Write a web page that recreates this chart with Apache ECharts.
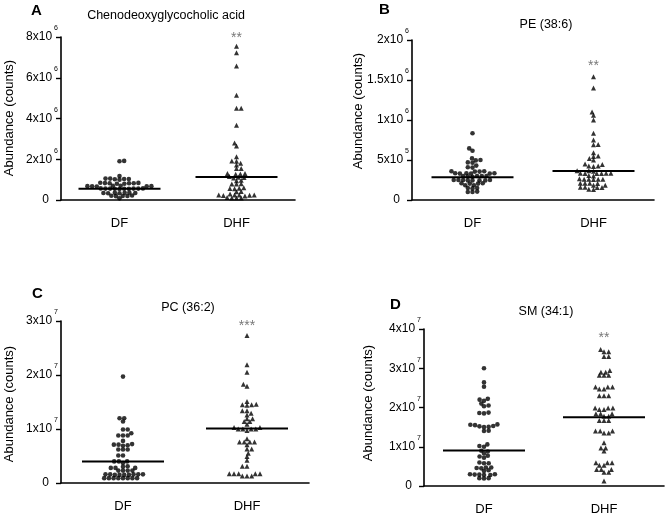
<!DOCTYPE html>
<html>
<head>
<meta charset="utf-8">
<script src="https://cdn.jsdelivr.net/npm/echarts@6/dist/echarts.min.js"></script>
<style>
html,body{margin:0;padding:0;background:#fff;}
#c{width:667px;height:516px;}
</style>
</head>
<body>
<div id="c"></div>
<script>
// ---------- data ----------
const categories = ['DF', 'DHF'];

// Panel A: Chenodeoxyglycocholic acid (units of 1e6 counts)
const dfA = [1.92, 1.9, 1.18, 1.05, 1.03, 1.02, 1.0, 1.03, 1.05, 0.85, 0.83, 0.82, 0.8, 0.82, 0.84, 0.8, 0.82,
  0.7, 0.68, 0.67, 0.66, 0.68, 0.7, 0.67, 0.56, 0.55, 0.56, 0.57, 0.55, 0.54, 0.56, 0.55, 0.57, 0.56,
  0.35, 0.34, 0.36, 0.33, 0.35, 0.34, 0.33, 0.2, 0.2, 0.22, 0.19, 0.21, 0.08];
const dhfA = [7.55, 7.23, 6.58, 5.14, 4.5, 4.5, 3.67, 2.8, 2.65, 2.12, 1.92, 1.9, 1.8, 1.72, 1.55, 1.55,
  1.3, 1.3, 1.28, 1.26, 1.15, 1.12, 1.1, 1.08, 0.97, 0.95, 0.8, 0.78, 0.78, 0.6, 0.58, 0.56, 0.55,
  0.42, 0.4, 0.3, 0.25, 0.25, 0.24, 0.24, 0.23, 0.22, 0.2, 0.12, 0.1, 0.1, 0.1];
const medianA = [0.55, 1.13];
const ticksA = ['0', '2x10^6', '4x10^6', '6x10^6', '8x10^6'];

// Panel B: PE (38:6) (units of 1e5 counts)
const dfB = [8.35, 6.45, 6.15, 5.2, 5.0, 4.95, 4.7, 4.65, 4.3, 4.1, 4.05, 3.6, 3.6, 3.55, 3.55,
  3.35, 3.3, 3.35, 3.3, 3.3, 3.35, 3.0, 3.0, 2.95, 3.0, 3.0, 2.9, 2.5, 2.45, 2.45, 2.5, 2.45, 2.5,
  2.45, 2.5, 2.05, 2.1, 2.1, 2.05, 1.85, 1.85, 1.5, 1.45, 1.5, 1.0, 1.05, 1.0];
const dhfB = [15.4, 14.0, 11.0, 10.6, 10.0, 8.35, 7.5, 6.95, 6.9, 5.9, 5.5, 5.45, 5.2, 5.0, 4.5, 4.45,
  4.25, 4.2, 4.25, 3.65, 3.6, 3.65, 3.35, 3.3, 3.35, 3.3, 3.35, 3.3, 3.0, 3.05, 2.6, 2.6, 2.55, 2.6,
  2.65, 2.6, 2.1, 2.1, 2.05, 2.1, 1.85, 1.85, 1.6, 1.55, 1.6, 1.55, 1.3, 1.35];
const medianB = [2.85, 3.63];
const ticksB = ['0', '5x10^5', '1x10^6', '1.5x10^6', '2x10^6'];

// Panel C: PC (36:2) (units of 1e7 counts)
const dfC = [1.97, 1.2, 1.2, 1.14, 0.99, 0.99, 0.92, 0.88, 0.88, 0.88, 0.78, 0.72, 0.71, 0.71, 0.7, 0.69,
  0.62, 0.62, 0.62, 0.51, 0.51, 0.4, 0.4, 0.4, 0.37, 0.31, 0.3, 0.28, 0.28, 0.28, 0.23, 0.23, 0.23, 0.23,
  0.16, 0.15, 0.16, 0.15, 0.16, 0.15, 0.16, 0.15, 0.16, 0.09, 0.09, 0.09, 0.09, 0.09, 0.09, 0.09, 0.09];
const dhfC = [2.73, 2.19, 2.05, 1.83, 1.79, 1.51, 1.45, 1.45, 1.44, 1.46, 1.34, 1.34, 1.29, 1.26, 1.19, 1.19,
  1.14, 1.14, 1.09, 1.03, 1.03, 1.0, 1.0, 1.0, 1.0, 0.97, 0.82, 0.76, 0.76, 0.76, 0.76, 0.71, 0.63, 0.63,
  0.55, 0.49, 0.42, 0.31, 0.31, 0.17, 0.17, 0.17, 0.17, 0.17, 0.13, 0.13, 0.13];
const medianC = [0.40, 1.01];
const ticksC = ['0', '1x10^7', '2x10^7', '3x10^7'];

// Panel D: SM (34:1) (units of 1e7 counts)
const dfD = [3.0, 2.64, 2.53, 2.22, 2.2, 2.17, 2.1, 2.05, 2.03, 1.87, 1.86, 1.85, 1.57, 1.56, 1.55, 1.53, 1.52,
  1.51, 1.5, 1.41, 1.4, 1.06, 1.02, 1.0, 0.9, 0.88, 0.83, 0.77, 0.75, 0.72, 0.6, 0.58, 0.58, 0.47, 0.46,
  0.45, 0.47, 0.4, 0.38, 0.3, 0.3, 0.29, 0.29, 0.28, 0.28, 0.2, 0.2, 0.19];
const dhfD = [3.48, 3.42, 3.42, 3.3, 3.3, 2.94, 2.9, 2.9, 2.82, 2.82, 2.82, 2.52, 2.52, 2.52, 2.47, 2.47,
  2.3, 2.3, 2.3, 1.99, 1.99, 1.99, 1.95, 1.95, 1.84, 1.84, 1.84, 1.78, 1.78, 1.67, 1.67, 1.67, 1.4, 1.4,
  1.4, 1.35, 1.35, 1.1, 0.97, 0.97, 0.89, 0.59, 0.59, 0.59, 0.53, 0.53, 0.42, 0.42, 0.42, 0.35, 0.35, 0.13];
const medianD = [0.905, 1.75];
const ticksD = ['0', '1x10^7', '2x10^7', '3x10^7', '4x10^7'];

const letters = ['A', 'B', 'C', 'D'];
const titles = ['Chenodeoxyglycocholic acid', 'PE (38:6)', 'PC (36:2)', 'SM (34:1)'];
const stars = ['**', '**', '***', '**'];
const starLevel = [7.95, 16.7, 2.9, 3.77];
const axisMax = [8, 20, 3, 4];
const axisInterval = [2, 5, 1, 1];
const yName = 'Abundance (counts)';

// ---------- layout ----------
const FONT = 'Liberation Sans, Arial, sans-serif';
const grids = [
  {left: 61, top: 37, width: 234, height: 163},
  {left: 412, top: 40, width: 242, height: 160},
  {left: 61, top: 321, width: 248, height: 162},
  {left: 424, top: 329, width: 240, height: 157}
];
const letterPos = [[31, 3], [379, 2], [32, 286], [390, 297]];
const titlePos = [[166, 16], [546, 25], [188, 308], [546, 312]];
const namePos = [[9, 118], [358, 111], [9, 404], [368, 403]];

const panels = [
  {df: dfA, dhf: dhfA, med: medianA, ticks: ticksA},
  {df: dfB, dhf: dhfB, med: medianB, ticks: ticksB},
  {df: dfC, dhf: dhfC, med: medianC, ticks: ticksC},
  {df: dfD, dhf: dhfD, med: medianD, ticks: ticksD}
];

// beeswarm layout (pixel space, elliptical collision) -> horizontal offsets
function swarm(values, pxPerY, d, yScale) {
  const order = values.map((v, i) => i).sort((a, b) => values[a] - values[b]);
  const placed = [];
  const xs = new Array(values.length).fill(0);
  let flip = 1;
  for (const i of order) {
    const y = values[i] * pxPerY * yScale;
    const iv = [];
    for (const p of placed) {
      const dy = Math.abs(p.y - y);
      if (dy < d) {
        const w = Math.sqrt(d * d - dy * dy);
        iv.push([p.x - w, p.x + w]);
      }
    }
    const cands = [0];
    iv.forEach(([a, b]) => cands.push(a, b));
    cands.sort((a, b) => (Math.abs(a) - Math.abs(b)) || (flip * (b - a)));
    let x = 0;
    for (const c of cands) {
      if (iv.every(([a, b]) => c <= a + 1e-6 || c >= b - 1e-6)) { x = c; break; }
    }
    flip = -flip;
    placed.push({x, y});
    xs[i] = x;
  }
  return xs;
}

function fmtTick(s) {
  if (s.indexOf('^') < 0) return '{z|' + s + '}';
  const parts = s.split('^');
  return '{m|' + parts[0] + '}{s|' + parts[1] + '}';
}

const option = {
  animation: false,
  backgroundColor: '#fff',
  textStyle: {fontFamily: FONT},
  grid: grids.map(g => Object.assign({containLabel: false}, g)),
  xAxis: [],
  yAxis: [],
  series: [],
  graphic: []
};

panels.forEach((p, k) => {
  const g = grids[k];
  const pxPerX = g.width / 2;
  const pxPerY = g.height / axisMax[k];
  // visible category axis
  option.xAxis.push({
    type: 'category', gridIndex: k, data: categories, boundaryGap: true,
    axisLine: {onZero: false, lineStyle: {color: '#000', width: 1.6}},
    axisTick: {alignWithLabel: true, length: 5, lineStyle: {color: '#000', width: 1.4}},
    axisLabel: {color: '#000', fontSize: 13, margin: 17, fontFamily: FONT},
    splitLine: {show: false}
  });
  // hidden value axis for point positions
  option.xAxis.push({type: 'value', gridIndex: k, min: -0.5, max: 1.5, show: false});
  const tickArr = p.ticks;
  const iv = axisInterval[k];
  option.yAxis.push({
    type: 'value', gridIndex: k, min: 0, max: axisMax[k], interval: iv,
    axisLine: {show: true, onZero: false, lineStyle: {color: '#000', width: 1.6}},
    axisTick: {show: true, length: 5, lineStyle: {color: '#000', width: 1.4}},
    splitLine: {show: false},
    axisLabel: {
      margin: 3,
      formatter: v => fmtTick(tickArr[Math.round(v / iv)] || ''),
      rich: {
        z: {fontSize: 12, color: '#000', fontFamily: FONT, padding: [0, 9, 0, 0]},
        m: {fontSize: 12, color: '#000', fontFamily: FONT},
        s: {fontSize: 7, color: '#000', fontFamily: FONT, lineHeight: 8, padding: [0, 0, 17, 2]}
      }
    }
  });
  const xi = 2 * k + 1;
  const groups = [p.df, p.dhf];
  groups.forEach((vals, gi) => {
    const offs = swarm(vals, pxPerY, 4.7, 1.4);
    option.series.push({
      type: 'scatter', xAxisIndex: xi, yAxisIndex: k,
      symbol: gi === 0 ? 'circle' : 'triangle',
      symbolSize: gi === 0 ? 4.6 : 5,
      itemStyle: {color: '#000'},
      silent: true,
      data: vals.map((v, i) => [gi + offs[i] / pxPerX, v])
    });
    const half = 41 / pxPerX;
    option.series.push({
      type: 'line', xAxisIndex: xi, yAxisIndex: k, symbol: 'none', silent: true,
      lineStyle: {color: '#000', width: 2},
      data: [[gi - half, p.med[gi]], [gi + half, p.med[gi]]]
    });
  });
  // significance stars
  option.series.push({
    type: 'scatter', xAxisIndex: xi, yAxisIndex: k, symbolSize: 0, silent: true,
    label: {show: true, position: 'inside', formatter: stars[k], color: '#555', fontSize: 14, fontFamily: FONT},
    data: [[1, starLevel[k]]]
  });
  // letters, titles, axis names
  option.graphic.push({
    type: 'text', left: letterPos[k][0], top: letterPos[k][1],
    style: {text: letters[k], font: 'bold 15px ' + FONT, fill: '#000'}
  });
  option.graphic.push({
    type: 'text', x: titlePos[k][0], y: titlePos[k][1],
    style: {text: titles[k], font: '12.5px ' + FONT, fill: '#000', textAlign: 'center', textVerticalAlign: 'middle'}
  });
  option.graphic.push({
    type: 'text', x: namePos[k][0], y: namePos[k][1], rotation: Math.PI / 2,
    style: {text: yName, font: '13px ' + FONT, fill: '#000', textAlign: 'center', textVerticalAlign: 'middle'}
  });
});

const chart = echarts.init(document.getElementById('c'), null, {renderer: 'canvas'});
chart.setOption(option);
</script>
</body>
</html>
